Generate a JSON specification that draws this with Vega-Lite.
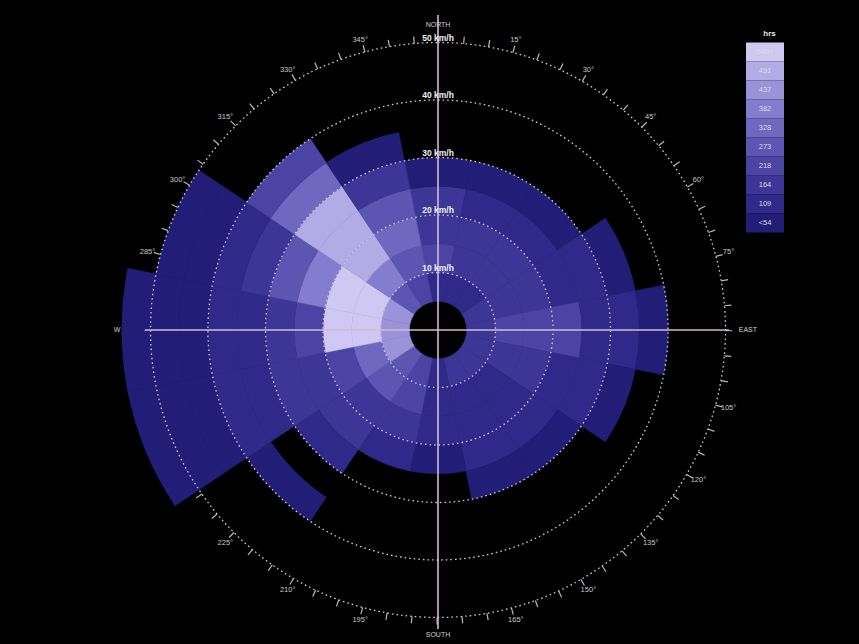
{
  "$schema": "https://vega.github.io/schema/vega-lite/v6.json",
  "autosize": {"type": "none"},
  "width": 842,
  "height": 628,
  "padding": {"left": 17, "top": 16, "right": 0, "bottom": 0},
  "background": "#000000",
  "config": {
    "view": {"stroke": null},
    "font": "Liberation Sans",
    "legend": {"labelColor": "#dcdcdc", "titleColor": "#e8e8e8", "labelFont": "Liberation Sans", "titleFont": "Liberation Sans"}
  },
  "datasets": {
    "cells": [
      {"d":"N","a0":-11.25,"a1":11.25,"s0":5,"s1":10,"hrs":"109"},
      {"d":"N","a0":-11.25,"a1":11.25,"s0":10,"s1":15,"hrs":"218"},
      {"d":"N","a0":-11.25,"a1":11.25,"s0":15,"s1":20,"hrs":"164"},
      {"d":"N","a0":-11.25,"a1":11.25,"s0":20,"s1":25,"hrs":"164"},
      {"d":"N","a0":-11.25,"a1":11.25,"s0":25,"s1":30,"hrs":"<54"},
      {"d":"NNE","a0":11.25,"a1":33.75,"s0":5,"s1":10,"hrs":"109"},
      {"d":"NNE","a0":11.25,"a1":33.75,"s0":10,"s1":15,"hrs":"164"},
      {"d":"NNE","a0":11.25,"a1":33.75,"s0":15,"s1":20,"hrs":"164"},
      {"d":"NNE","a0":11.25,"a1":33.75,"s0":20,"s1":25,"hrs":"109"},
      {"d":"NNE","a0":11.25,"a1":33.75,"s0":25,"s1":30,"hrs":"<54"},
      {"d":"NE","a0":33.75,"a1":56.25,"s0":5,"s1":10,"hrs":"109"},
      {"d":"NE","a0":33.75,"a1":56.25,"s0":10,"s1":15,"hrs":"164"},
      {"d":"NE","a0":33.75,"a1":56.25,"s0":15,"s1":20,"hrs":"164"},
      {"d":"NE","a0":33.75,"a1":56.25,"s0":20,"s1":25,"hrs":"109"},
      {"d":"NE","a0":33.75,"a1":56.25,"s0":25,"s1":30,"hrs":"<54"},
      {"d":"ENE","a0":56.25,"a1":78.75,"s0":5,"s1":10,"hrs":"164"},
      {"d":"ENE","a0":56.25,"a1":78.75,"s0":10,"s1":15,"hrs":"164"},
      {"d":"ENE","a0":56.25,"a1":78.75,"s0":15,"s1":20,"hrs":"164"},
      {"d":"ENE","a0":56.25,"a1":78.75,"s0":20,"s1":25,"hrs":"109"},
      {"d":"ENE","a0":56.25,"a1":78.75,"s0":25,"s1":30,"hrs":"109"},
      {"d":"ENE","a0":56.25,"a1":78.75,"s0":30,"s1":35,"hrs":"<54"},
      {"d":"E","a0":78.75,"a1":101.25,"s0":5,"s1":10,"hrs":"164"},
      {"d":"E","a0":78.75,"a1":101.25,"s0":10,"s1":15,"hrs":"218"},
      {"d":"E","a0":78.75,"a1":101.25,"s0":15,"s1":20,"hrs":"218"},
      {"d":"E","a0":78.75,"a1":101.25,"s0":20,"s1":25,"hrs":"218"},
      {"d":"E","a0":78.75,"a1":101.25,"s0":25,"s1":30,"hrs":"109"},
      {"d":"E","a0":78.75,"a1":101.25,"s0":30,"s1":35,"hrs":"109"},
      {"d":"E","a0":78.75,"a1":101.25,"s0":35,"s1":40,"hrs":"<54"},
      {"d":"ESE","a0":101.25,"a1":123.75,"s0":5,"s1":10,"hrs":"164"},
      {"d":"ESE","a0":101.25,"a1":123.75,"s0":10,"s1":15,"hrs":"164"},
      {"d":"ESE","a0":101.25,"a1":123.75,"s0":15,"s1":20,"hrs":"164"},
      {"d":"ESE","a0":101.25,"a1":123.75,"s0":20,"s1":25,"hrs":"109"},
      {"d":"ESE","a0":101.25,"a1":123.75,"s0":25,"s1":30,"hrs":"109"},
      {"d":"ESE","a0":101.25,"a1":123.75,"s0":30,"s1":35,"hrs":"<54"},
      {"d":"SE","a0":123.75,"a1":146.25,"s0":5,"s1":10,"hrs":"164"},
      {"d":"SE","a0":123.75,"a1":146.25,"s0":10,"s1":15,"hrs":"109"},
      {"d":"SE","a0":123.75,"a1":146.25,"s0":15,"s1":20,"hrs":"109"},
      {"d":"SE","a0":123.75,"a1":146.25,"s0":20,"s1":25,"hrs":"109"},
      {"d":"SE","a0":123.75,"a1":146.25,"s0":25,"s1":30,"hrs":"<54"},
      {"d":"SSE","a0":146.25,"a1":168.75,"s0":5,"s1":10,"hrs":"164"},
      {"d":"SSE","a0":146.25,"a1":168.75,"s0":10,"s1":15,"hrs":"109"},
      {"d":"SSE","a0":146.25,"a1":168.75,"s0":15,"s1":20,"hrs":"109"},
      {"d":"SSE","a0":146.25,"a1":168.75,"s0":20,"s1":25,"hrs":"109"},
      {"d":"SSE","a0":146.25,"a1":168.75,"s0":25,"s1":30,"hrs":"<54"},
      {"d":"S","a0":168.75,"a1":191.25,"s0":5,"s1":10,"hrs":"109"},
      {"d":"S","a0":168.75,"a1":191.25,"s0":10,"s1":15,"hrs":"109"},
      {"d":"S","a0":168.75,"a1":191.25,"s0":15,"s1":20,"hrs":"109"},
      {"d":"S","a0":168.75,"a1":191.25,"s0":20,"s1":25,"hrs":"<54"},
      {"d":"SSW","a0":191.25,"a1":213.75,"s0":5,"s1":10,"hrs":"218"},
      {"d":"SSW","a0":191.25,"a1":213.75,"s0":10,"s1":15,"hrs":"218"},
      {"d":"SSW","a0":191.25,"a1":213.75,"s0":15,"s1":20,"hrs":"164"},
      {"d":"SSW","a0":191.25,"a1":213.75,"s0":20,"s1":25,"hrs":"109"},
      {"d":"SW","a0":213.75,"a1":236.25,"s0":5,"s1":10,"hrs":"273"},
      {"d":"SW","a0":213.75,"a1":236.25,"s0":10,"s1":15,"hrs":"273"},
      {"d":"SW","a0":213.75,"a1":236.25,"s0":15,"s1":20,"hrs":"164"},
      {"d":"SW","a0":213.75,"a1":236.25,"s0":20,"s1":25,"hrs":"164"},
      {"d":"SW","a0":213.75,"a1":236.25,"s0":25,"s1":30,"hrs":"109"},
      {"d":"SW","a0":213.75,"a1":236.25,"s0":35,"s1":40,"hrs":"<54"},
      {"d":"WSW","a0":236.25,"a1":258.75,"s0":5,"s1":10,"hrs":"437"},
      {"d":"WSW","a0":236.25,"a1":258.75,"s0":10,"s1":15,"hrs":"328"},
      {"d":"WSW","a0":236.25,"a1":258.75,"s0":15,"s1":20,"hrs":"218"},
      {"d":"WSW","a0":236.25,"a1":258.75,"s0":20,"s1":25,"hrs":"164"},
      {"d":"WSW","a0":236.25,"a1":258.75,"s0":25,"s1":30,"hrs":"164"},
      {"d":"WSW","a0":236.25,"a1":258.75,"s0":30,"s1":35,"hrs":"109"},
      {"d":"WSW","a0":236.25,"a1":258.75,"s0":35,"s1":40,"hrs":"109"},
      {"d":"WSW","a0":236.25,"a1":258.75,"s0":40,"s1":45,"hrs":"<54"},
      {"d":"WSW","a0":236.25,"a1":258.75,"s0":45,"s1":50,"hrs":"<54"},
      {"d":"WSW","a0":236.25,"a1":258.75,"s0":50,"s1":55,"hrs":"<54"},
      {"d":"W","a0":258.75,"a1":281.25,"s0":5,"s1":10,"hrs":"437"},
      {"d":"W","a0":258.75,"a1":281.25,"s0":10,"s1":15,"hrs":"546+"},
      {"d":"W","a0":258.75,"a1":281.25,"s0":15,"s1":20,"hrs":"546+"},
      {"d":"W","a0":258.75,"a1":281.25,"s0":20,"s1":25,"hrs":"218"},
      {"d":"W","a0":258.75,"a1":281.25,"s0":25,"s1":30,"hrs":"164"},
      {"d":"W","a0":258.75,"a1":281.25,"s0":30,"s1":35,"hrs":"109"},
      {"d":"W","a0":258.75,"a1":281.25,"s0":35,"s1":40,"hrs":"109"},
      {"d":"W","a0":258.75,"a1":281.25,"s0":40,"s1":45,"hrs":"<54"},
      {"d":"W","a0":258.75,"a1":281.25,"s0":45,"s1":50,"hrs":"<54"},
      {"d":"W","a0":258.75,"a1":281.25,"s0":50,"s1":55,"hrs":"<54"},
      {"d":"WNW","a0":281.25,"a1":303.75,"s0":5,"s1":10,"hrs":"437"},
      {"d":"WNW","a0":281.25,"a1":303.75,"s0":10,"s1":15,"hrs":"546+"},
      {"d":"WNW","a0":281.25,"a1":303.75,"s0":15,"s1":20,"hrs":"546+"},
      {"d":"WNW","a0":281.25,"a1":303.75,"s0":20,"s1":25,"hrs":"382"},
      {"d":"WNW","a0":281.25,"a1":303.75,"s0":25,"s1":30,"hrs":"273"},
      {"d":"WNW","a0":281.25,"a1":303.75,"s0":30,"s1":35,"hrs":"164"},
      {"d":"WNW","a0":281.25,"a1":303.75,"s0":35,"s1":40,"hrs":"109"},
      {"d":"WNW","a0":281.25,"a1":303.75,"s0":40,"s1":45,"hrs":"<54"},
      {"d":"WNW","a0":281.25,"a1":303.75,"s0":45,"s1":50,"hrs":"<54"},
      {"d":"NW","a0":303.75,"a1":326.25,"s0":5,"s1":10,"hrs":"273"},
      {"d":"NW","a0":303.75,"a1":326.25,"s0":10,"s1":15,"hrs":"382"},
      {"d":"NW","a0":303.75,"a1":326.25,"s0":15,"s1":20,"hrs":"491"},
      {"d":"NW","a0":303.75,"a1":326.25,"s0":20,"s1":25,"hrs":"491"},
      {"d":"NW","a0":303.75,"a1":326.25,"s0":25,"s1":30,"hrs":"491"},
      {"d":"NW","a0":303.75,"a1":326.25,"s0":30,"s1":35,"hrs":"328"},
      {"d":"NW","a0":303.75,"a1":326.25,"s0":35,"s1":40,"hrs":"218"},
      {"d":"NNW","a0":326.25,"a1":348.75,"s0":5,"s1":10,"hrs":"218"},
      {"d":"NNW","a0":326.25,"a1":348.75,"s0":10,"s1":15,"hrs":"273"},
      {"d":"NNW","a0":326.25,"a1":348.75,"s0":15,"s1":20,"hrs":"328"},
      {"d":"NNW","a0":326.25,"a1":348.75,"s0":20,"s1":25,"hrs":"273"},
      {"d":"NNW","a0":326.25,"a1":348.75,"s0":25,"s1":30,"hrs":"164"},
      {"d":"NNW","a0":326.25,"a1":348.75,"s0":30,"s1":35,"hrs":"<54"}
    ],
    "rings": [{"r":10,"lab":"10 km/h"},{"r":20,"lab":"20 km/h"},{"r":30,"lab":"30 km/h"},{"r":40,"lab":"40 km/h"},{"r":50,"lab":"50 km/h"}],
    "spokes": [{"ang":0,"len":54.8},{"ang":90,"len":50.6},{"ang":180,"len":52},{"ang":270,"len":51}],
    "degs": [
      {"t":15,"lab":"15°"},{"t":30,"lab":"30°"},{"t":45,"lab":"45°"},{"t":60,"lab":"60°"},{"t":75,"lab":"75°"},
      {"t":105,"lab":"105°"},{"t":120,"lab":"120°"},{"t":135,"lab":"135°"},{"t":150,"lab":"150°"},{"t":165,"lab":"165°"},
      {"t":195,"lab":"195°"},{"t":210,"lab":"210°"},{"t":225,"lab":"225°"},{"t":240,"lab":"240°"},{"t":255,"lab":"255°"},
      {"t":285,"lab":"285°"},{"t":300,"lab":"300°"},{"t":315,"lab":"315°"},{"t":330,"lab":"330°"},{"t":345,"lab":"345°"}
    ]
  },
  "layer": [
    {
      "data": {"values": [{"k": 1}]},
      "mark": {"type": "arc", "fill": "#000000", "fillOpacity": 0, "stroke": "#b8b8b8", "strokeWidth": 7, "strokeDash": [1.2, 24.19]},
      "encoding": {
        "theta": {"datum": 0, "scale": {"type": "linear", "domain": [0, 360], "range": [0, 6.283185307179586]}, "stack": null},
        "theta2": {"datum": 360},
        "radius": {"datum": 50.6, "scale": {"type": "linear", "domain": [0, 55], "range": [0, 316.25]}},
        "radius2": {"datum": 0}
      }
    },
    {
      "data": {"name": "degs"},
      "mark": {"type": "text", "color": "#c8c8c8", "fontSize": 7.5},
      "encoding": {
        "theta": {"field": "t", "type": "quantitative", "scale": {"type": "linear", "domain": [0, 360], "range": [0, 6.283185307179586]}, "stack": null},
        "radius": {"datum": 52.3, "scale": {"type": "linear", "domain": [0, 55], "range": [0, 316.25]}},
        "text": {"field": "lab"}
      }
    },
    {
      "data": {"name": "cells"},
      "mark": {"type": "arc", "strokeWidth": 0.6},
      "encoding": {
        "theta": {"field": "a0", "type": "quantitative", "scale": {"type": "linear", "domain": [0, 360], "range": [0, 6.283185307179586]}, "stack": null},
        "theta2": {"field": "a1"},
        "radius": {"field": "s1", "type": "quantitative", "scale": {"type": "linear", "domain": [0, 55], "range": [0, 316.25]}},
        "radius2": {"field": "s0"},
        "color": {
          "field": "hrs", "type": "ordinal",
          "scale": {"domain": ["546+", "491", "437", "382", "328", "273", "218", "164", "109", "<54"],
                    "range": ["#cfc8f2", "#b3abe6", "#9a93da", "#847cce", "#6f68c0", "#5d55b2", "#4b44a4", "#3c3696", "#2f2a89", "#221e77"]},
          "legend": {
            "title": "hrs", "orient": "none", "legendX": 738.5, "legendY": 14,
            "symbolType": "M-2,-1H2V1H-2Z", "symbolSize": 361, "symbolStrokeWidth": 0,
            "rowPadding": 0, "labelAlign": "center", "labelOffset": -9.5, "labelFontSize": 7.5,
            "titleFontSize": 8, "titleFontWeight": "bold", "titleAnchor": "middle", "titlePadding": 4.5
          }
        },
        "stroke": {
          "field": "hrs", "type": "ordinal", "legend": null,
          "scale": {"domain": ["546+", "491", "437", "382", "328", "273", "218", "164", "109", "<54"],
                    "range": ["#cfc8f2", "#b3abe6", "#9a93da", "#847cce", "#6f68c0", "#5d55b2", "#4b44a4", "#3c3696", "#2f2a89", "#221e77"]}
        }
      }
    },
    {
      "data": {"name": "rings"},
      "mark": {"type": "arc", "fill": "#000000", "fillOpacity": 0, "stroke": "#d6c3dc", "strokeWidth": 1.3, "strokeDash": [1.6, 3]},
      "encoding": {
        "theta": {"datum": 0, "scale": {"type": "linear", "domain": [0, 360], "range": [0, 6.283185307179586]}, "stack": null},
        "theta2": {"datum": 360},
        "radius": {"field": "r", "type": "quantitative", "scale": {"type": "linear", "domain": [0, 55], "range": [0, 316.25]}},
        "radius2": {"datum": 0}
      }
    },
    {
      "data": {"name": "spokes"},
      "mark": {"type": "arc", "fill": "#000000", "fillOpacity": 0, "stroke": "#d8b6d6", "strokeWidth": 1.6},
      "encoding": {
        "theta": {"field": "ang", "type": "quantitative", "scale": {"type": "linear", "domain": [0, 360], "range": [0, 6.283185307179586]}, "stack": null},
        "theta2": {"field": "ang"},
        "radius": {"field": "len", "type": "quantitative", "scale": {"type": "linear", "domain": [0, 55], "range": [0, 316.25]}},
        "radius2": {"datum": 0}
      }
    },
    {
      "data": {"name": "rings"},
      "mark": {"type": "text", "color": "#f0f0f0", "fontSize": 8.5, "fontWeight": "bold", "dy": -5},
      "encoding": {
        "theta": {"datum": 0, "scale": {"type": "linear", "domain": [0, 360], "range": [0, 6.283185307179586]}, "stack": null},
        "radius": {"field": "r", "type": "quantitative", "scale": {"type": "linear", "domain": [0, 55], "range": [0, 316.25]}},
        "text": {"field": "lab"}
      }
    },
    {
      "data": {"values": [{"ang": 0, "lab": "NORTH"}, {"ang": 180, "lab": "SOUTH"}]},
      "mark": {"type": "text", "color": "#d0d0d0", "fontSize": 7},
      "encoding": {
        "theta": {"field": "ang", "type": "quantitative", "scale": {"type": "linear", "domain": [0, 360], "range": [0, 6.283185307179586]}, "stack": null},
        "radius": {"datum": 53.1, "scale": {"type": "linear", "domain": [0, 55], "range": [0, 316.25]}},
        "text": {"field": "lab"}
      }
    },
    {
      "data": {"values": [{"ang": 90, "lab": "EAST"}]},
      "mark": {"type": "text", "color": "#d0d0d0", "fontSize": 7},
      "encoding": {
        "theta": {"field": "ang", "type": "quantitative", "scale": {"type": "linear", "domain": [0, 360], "range": [0, 6.283185307179586]}, "stack": null},
        "radius": {"datum": 53.9, "scale": {"type": "linear", "domain": [0, 55], "range": [0, 316.25]}},
        "text": {"field": "lab"}
      }
    },
    {
      "data": {"values": [{"ang": 270, "lab": "W"}]},
      "mark": {"type": "text", "color": "#d0d0d0", "fontSize": 7},
      "encoding": {
        "theta": {"field": "ang", "type": "quantitative", "scale": {"type": "linear", "domain": [0, 360], "range": [0, 6.283185307179586]}, "stack": null},
        "radius": {"datum": 55.8, "scale": {"type": "linear", "domain": [0, 55], "range": [0, 316.25]}},
        "text": {"field": "lab"}
      }
    }
  ]
}
